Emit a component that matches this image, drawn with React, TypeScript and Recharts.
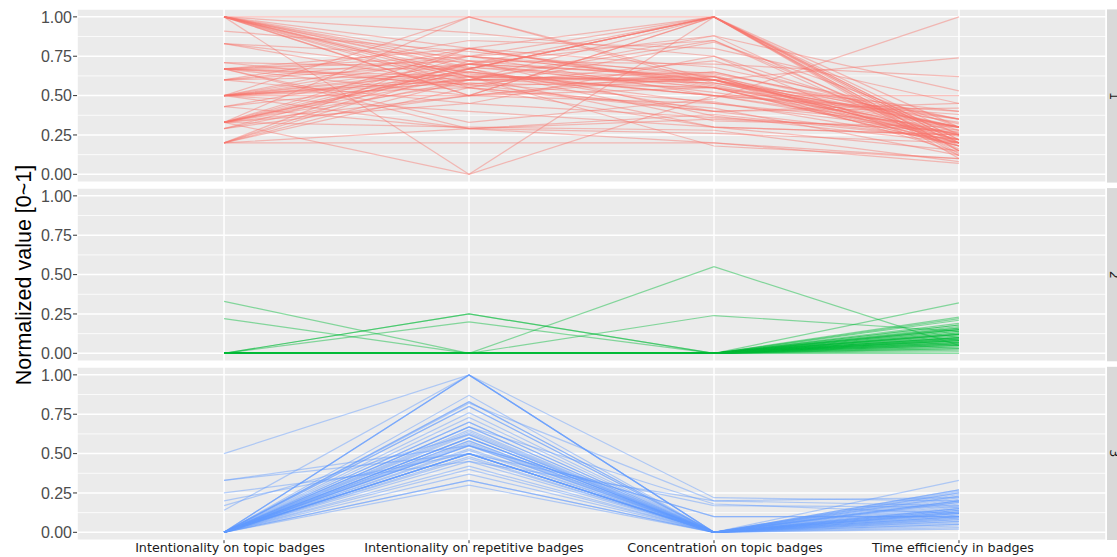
import React from "react"
import {
  LineChart,
  Line,
  XAxis,
  YAxis,
  CartesianGrid,
  ReferenceLine,
} from "recharts"

const categories = [
  "Intentionality on topic badges",
  "Intentionality on repetitive badges",
  "Concentration on topic badges",
  "Time efficiency in badges",
]

const yTicks = [0, 0.25, 0.5, 0.75, 1]
const minorTicks = [0.125, 0.375, 0.625, 0.875]
const clusterLabels = ["1", "2", "3"]

// each row: [topic, repetitive, concentration, time efficiency]
const cluster1Lines: number[][] = [
  [1, 0.67, 1, 0.25], [1, 0.6, 0.85, 0.2], [1, 0.75, 0.6, 0.3], [1, 0.5, 1, 0.15],
  [1, 0, 1, 0.2], [1, 0.8, 0.55, 0.35], [1, 0.7, 0.62, 0.18], [1, 0.64, 0.5, 0.28],
  [1, 0.57, 0.4, 0.22], [1, 0.9, 0.75, 0.12], [1, 0.62, 0.58, 0.4], [1, 0.55, 0.3, 0.25],
  [1, 0.5, 0.65, 0.32], [1, 0.72, 0.37, 0.2], [1, 1, 1, 0.3], [0.91, 0.78, 0.62, 0.3],
  [0.83, 0.65, 0.45, 0.26], [0.83, 0.56, 0.6, 0.22], [0.71, 0.68, 0.55, 0.18], [0.71, 0.55, 0.84, 0.3],
  [0.67, 0.6, 1, 0.22], [0.67, 0.75, 0.5, 0.4], [0.67, 0.33, 0.48, 1], [0.67, 0.62, 0.3, 0.15],
  [0.67, 0.8, 0.56, 0.25], [0.67, 0.5, 0.62, 0.2], [0.67, 0.67, 0.4, 0.45], [0.67, 0.57, 0.72, 0.28],
  [0.6, 0.63, 0.58, 0.33], [0.6, 0.7, 1, 0.12], [0.6, 0.45, 0.36, 0.27], [0.6, 0.75, 0.6, 0.18],
  [0.5, 0.6, 0.6, 0.3], [0.5, 0.67, 1, 0.1], [0.5, 0.5, 0.55, 0.22], [0.5, 0.75, 0.64, 0.35],
  [0.5, 0.58, 0.46, 0.2], [0.5, 0.7, 0.88, 0.16], [0.5, 0.4, 0.3, 0.25], [0.5, 0.65, 0.5, 0.38],
  [0.5, 0.62, 0.6, 0.14], [0.5, 1, 0.58, 0.3], [0.5, 0.55, 0.4, 0.42], [0.5, 0.8, 0.57, 0.24],
  [0.43, 0.6, 0.62, 0.2], [0.43, 0.7, 0.52, 0.3], [0.43, 0.29, 0.35, 0.28], [0.33, 0.67, 1, 0.2],
  [0.33, 0.62, 0.6, 0.25], [0.33, 0.75, 0.85, 0.15], [0.33, 1, 0.6, 0.35], [0.33, 0.5, 0.45, 0.3],
  [0.33, 0.7, 0.63, 0.22], [0.33, 0.58, 0.55, 0.18], [0.33, 0.8, 1, 0.13], [0.33, 0.65, 0.5, 0.5],
  [0.33, 0.3, 0.28, 0.08], [0.33, 0.45, 0.75, 0.26], [0.33, 0, 0.5, 0.25], [0.29, 0.6, 0.65, 0.3],
  [0.29, 0.7, 0.55, 0.2], [0.29, 0.5, 1, 0.15], [0.2, 0.2, 0.2, 0.1], [0.2, 0.29, 0.38, 0.22],
  [0.2, 0.6, 0.55, 0.3], [0.2, 0.67, 1, 0.18], [0.2, 0.72, 0.6, 0.25], [0.2, 0.55, 0.42, 0.12],
  [0.2, 0.8, 0.68, 0.35], [0.67, 0.29, 0.26, 0.2], [0.6, 0.85, 0.8, 0.45], [1, 0.62, 0.18, 0.1],
  [0.5, 0.29, 0.2, 0.07], [0.83, 0.75, 1, 0.22], [0.67, 0.72, 0.7, 0.62], [0.5, 0.6, 0.88, 0.53],
  [0.33, 0.67, 0.34, 0.3], [1, 0.68, 0.6, 0.74],
]

const cluster2Lines: number[][] = [
  [0.33, 0, 0, 0.15], [0.22, 0, 0, 0.1], [0, 0.25, 0, 0.12], [0, 0.25, 0, 0.08],
  [0, 0.2, 0, 0.18], [0, 0, 0.55, 0.05], [0, 0, 0.24, 0.14], [0, 0, 0, 0.32],
  [0, 0, 0, 0.23], [0, 0, 0, 0.22], [0, 0, 0, 0.21], [0, 0, 0, 0.19],
  [0, 0, 0, 0.18], [0, 0, 0, 0.17], [0, 0, 0, 0.16], [0, 0, 0, 0.16],
  [0, 0, 0, 0.15], [0, 0, 0, 0.15], [0, 0, 0, 0.14], [0, 0, 0, 0.14],
  [0, 0, 0, 0.13], [0, 0, 0, 0.13], [0, 0, 0, 0.12], [0, 0, 0, 0.12],
  [0, 0, 0, 0.12], [0, 0, 0, 0.11], [0, 0, 0, 0.11], [0, 0, 0, 0.1],
  [0, 0, 0, 0.1], [0, 0, 0, 0.1], [0, 0, 0, 0.09], [0, 0, 0, 0.09],
  [0, 0, 0, 0.09], [0, 0, 0, 0.08], [0, 0, 0, 0.08], [0, 0, 0, 0.08],
  [0, 0, 0, 0.07], [0, 0, 0, 0.07], [0, 0, 0, 0.07], [0, 0, 0, 0.06],
  [0, 0, 0, 0.06], [0, 0, 0, 0.06], [0, 0, 0, 0.05], [0, 0, 0, 0.05],
  [0, 0, 0, 0.05], [0, 0, 0, 0.04], [0, 0, 0, 0.04], [0, 0, 0, 0.03],
  [0, 0, 0, 0.03], [0, 0, 0, 0.02], [0, 0, 0, 0.01], [0, 0, 0, 0],
]

const cluster3Lines: number[][] = [
  [0, 1, 0, 0.27], [0, 1, 0, 0.15], [0, 1, 0, 0.2], [0.5, 1, 0.22, 0.2],
  [0.14, 1, 0, 0.1], [0, 0.87, 0, 0.12], [0, 0.83, 0, 0.25], [0, 0.83, 0, 0.08],
  [0, 0.82, 0.2, 0.17], [0, 0.8, 0, 0.22], [0, 0.8, 0, 0.05], [0, 0.73, 0, 0.14],
  [0, 0.7, 0, 0.1], [0, 0.67, 0, 0.19], [0, 0.67, 0, 0.24], [0, 0.67, 0.18, 0.12],
  [0, 0.63, 0, 0.07], [0, 0.6, 0, 0.16], [0, 0.6, 0, 0.13], [0, 0.6, 0, 0.03],
  [0, 0.58, 0, 0.21], [0, 0.55, 0, 0.11], [0, 0.55, 0, 0.18], [0, 0.55, 0.1, 0.1],
  [0, 0.5, 0, 0.26], [0, 0.5, 0, 0.09], [0, 0.5, 0, 0.15], [0, 0.5, 0, 0.04],
  [0, 0.5, 0, 0.2], [0, 0.45, 0, 0.12], [0, 0.42, 0, 0.06], [0, 0.4, 0, 0.17],
  [0, 0.37, 0, 0.08], [0, 0.33, 0, 0.23], [0, 0.33, 0, 0.14], [0, 0.3, 0, 0.1],
  [0.33, 0.55, 0.1, 0.1], [0.33, 0.5, 0, 0.33], [0.25, 0.45, 0.2, 0.22], [0.2, 0.5, 0.17, 0.16],
  [0.17, 0.62, 0, 0.13], [0, 0.62, 0, 0.27], [0, 0.65, 0, 0.02], [0, 0.57, 0, 0.19],
  [0, 0.52, 0, 0.12], [0, 0.48, 0, 0.07], [0, 0.6, 0, 0.25], [0, 0.7, 0, 0.15],
  [0, 0.76, 0, 0.09], [0, 0.53, 0, 0.2], [0, 0.47, 0, 0.14], [0, 0.56, 0, 0.05],
  [0, 0.64, 0, 0.11], [0, 0.5, 0, 0.13], [0, 0.58, 0, 0.23],
]

const clusters = [
  { lines: cluster1Lines, color: "#F8766D" },
  { lines: cluster2Lines, color: "#00BA38" },
  { lines: cluster3Lines, color: "#619CFF" },
]

const W = 1117
const PANEL_H = 173.2
const PANEL_TOPS = [9.4, 188.1, 366.8]
const AXIS_W = 77
const RIGHT = 11
// the source image's x labels sit a little off their ticks
const labelShift = [6, 5, 11, -6]

function toRows(lines: number[][]) {
  return categories.map((_, i) => {
    const row: Record<string, number> = { x: i + 1 }
    lines.forEach((l, j) => {
      row[`s${j}`] = l[i]
    })
    return row
  })
}

function XTick(props: any) {
  const { x, y, payload } = props
  const i = payload.value - 1
  return (
    <text
      x={x + (labelShift[i] ?? 0)}
      y={y}
      dy="0.71em"
      textAnchor="middle"
      fontSize={12.7}
      fill="#1a1a1a"
      fontFamily="DejaVu Sans"
    >
      {categories[i]}
    </text>
  )
}

function Panel({ lines, color, showX }: { lines: number[][]; color: string; showX: boolean }) {
  const rows = toRows(lines)
  const xH = showX ? 22 : 0
  return (
    <LineChart
      width={W}
      height={PANEL_H + xH}
      data={rows}
      margin={{ top: 0, right: RIGHT, left: 0, bottom: 0 }}
    >
      <CartesianGrid fill="#EBEBEB" stroke="#FFFFFF" strokeWidth={1.5} />
      {minorTicks.map((t) => (
        <ReferenceLine key={t} y={t} stroke="#FFFFFF" strokeWidth={0.8} />
      ))}
      <XAxis
        dataKey="x"
        type="number"
        domain={[0.4, 4.6]}
        ticks={[1, 2, 3, 4]}
        interval={0}
        hide={!showX}
        height={xH}
        axisLine={false}
        tickSize={3}
        tickMargin={0}
        tickLine={{ stroke: "#333333" }}
        tick={<XTick />}
      />
      <YAxis
        type="number"
        domain={[-0.05, 1.05]}
        ticks={yTicks}
        interval={0}
        width={AXIS_W}
        axisLine={false}
        tickSize={4}
        tickMargin={1}
        tickLine={{ stroke: "#333333" }}
        tick={{ fontSize: 16, fill: "#4D4D4D", fontFamily: "Liberation Sans, Arial" }}
        tickFormatter={(v) => Number(v).toFixed(2)}
      />
      {lines.map((_, j) => (
        <Line
          key={j}
          dataKey={`s${j}`}
          type="linear"
          stroke={color}
          strokeOpacity={0.45}
          strokeWidth={1.2}
          dot={false}
          activeDot={false}
          isAnimationActive={false}
        />
      ))}
    </LineChart>
  )
}

export default function App() {
  return (
    <div style={{ position: "absolute", left: 0, top: 0, width: W, height: 557, background: "#FFFFFF", overflow: "hidden" }}>
      {clusters.map((c, i) => (
        <div key={i} style={{ position: "absolute", left: 0, top: PANEL_TOPS[i] }}>
          <Panel lines={c.lines} color={c.color} showX={i === 2} />
        </div>
      ))}
      <svg width={W} height={557} style={{ position: "absolute", left: 0, top: 0, pointerEvents: "none" }}>
        <text
          x={31}
          y={275}
          transform="rotate(-90, 31, 275)"
          textAnchor="middle"
          fontSize={21.5}
          fill="#000000"
          fontFamily="Liberation Sans, Arial"
        >
          Normalized value [0~1]
        </text>
        {clusterLabels.map((lab, i) => {
          const cy = PANEL_TOPS[i] + PANEL_H / 2
          return (
            <g key={lab}>
              <rect x={W - RIGHT + 1} y={PANEL_TOPS[i]} width={20} height={PANEL_H} fill="#D9D9D9" />
              <text
                x={1110}
                y={cy}
                transform={`rotate(90, 1110, ${cy})`}
                textAnchor="middle"
                fontSize={12.7}
                fill="#1a1a1a"
                fontFamily="DejaVu Sans"
              >
                {lab}
              </text>
            </g>
          )
        })}
      </svg>
    </div>
  )
}
